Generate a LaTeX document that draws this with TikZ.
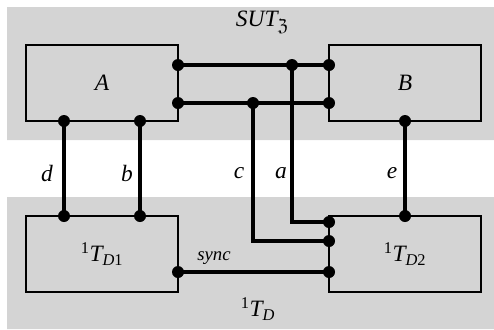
\documentclass[tikz,border=0pt]{standalone}
\usepackage{amssymb}
\usepackage{fontspec}
\setmainfont{Liberation Serif}
\newcommand\tdlab[1]{\textsuperscript{\upshape 1}T\textsubscript{D{\upshape #1}}}
\tikzset{blk/.style={draw,line width=2pt,minimum width=45.6mm,minimum height=22.8mm,inner sep=0pt},wire/.style={line width=3pt}}
\begin{document}
\begin{tikzpicture}[x=.3mm,y=-.3mm,line cap=round,font=\fontsize{20}{24}\selectfont\itshape]
\useasboundingbox(0,0)rectangle(494,329);
% shaded areas
\fill[black!17](7,7)rectangle(494,140) (7,197)rectangle(494,329);
\node(sut)at(262,22){SUT\raisebox{-.45ex}{\fontsize{15}{18}\selectfont$\mathfrak{Z}$}};\node(td)at(258,309){\tdlab{}};
% blocks
\node[blk](A)at(102,83){A};\node[blk](B)at(405,83){B};\node[blk](T1)at(102,254){\tdlab{1}};\node[blk](T2)at(405,254){\tdlab{2}};
% ports
\coordinate(pA1)at(178,65);\coordinate(pA2)at(178,103);\coordinate(pB1)at(329,65);\coordinate(pB2)at(329,103);\coordinate(ja)at(292,65);\coordinate(jc)at(253,103);\coordinate(ka)at(292,222);\coordinate(kc)at(253,241);\coordinate(pTa)at(329,222);\coordinate(pTc)at(329,241);\coordinate(pTs)at(329,272);\coordinate(pSs)at(178,272);\coordinate(pAd)at(64,121);\coordinate(pAb)at(140,121);\coordinate(pTd)at(64,216);\coordinate(pTb)at(140,216);\coordinate(pBe)at(405,121);\coordinate(pTe)at(405,216);
% wires
\draw[wire](pA1)--(pB1) (pA2)--(pB2) (ja)--(ka)--(pTa) (jc)--(kc)--(pTc) (pSs)--(pTs) (pAd)--(pTd) (pAb)--(pTb) (pBe)--(pTe);
\foreach\p in{pA1,pA2,pB1,pB2,ja,jc,pTa,pTc,pTs,pSs,pAd,pAb,pTd,pTb,pBe,pTe}\fill(\p)circle(1.8mm);
% labels
\node(ld)at(47,173){d};\node(lb)at(127,173){b};\node(lc)at(239,173){c};\node(la)at(281,173){a};\node(le)at(392,173){e};\node[font=\fontsize{16}{18}\selectfont\itshape](sync)at(214,258){sync};
\end{tikzpicture}
\end{document}
